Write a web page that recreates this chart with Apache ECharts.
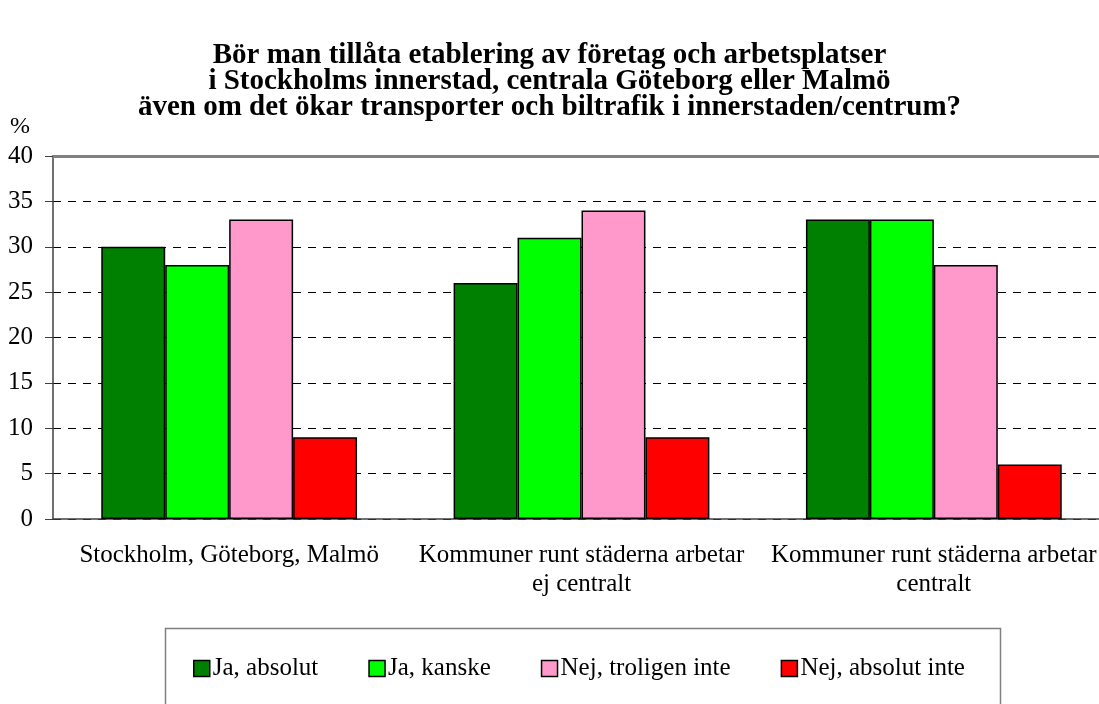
<!DOCTYPE html>
<html>
<head>
<meta charset="utf-8">
<script src="https://cdn.jsdelivr.net/npm/echarts@6/dist/echarts.min.js"></script>
<style>
  html, body { margin: 0; padding: 0; background: #fff; }
  #main { width: 1099px; height: 704px; }
</style>
</head>
<body>
<div id="main"></div>
<script>
// kategorier och svarsandelar (%)
var categories = ['Stockholm, Göteborg, Malmö', 'Kommuner runt städerna arbetar\nej centralt', 'Kommuner runt städerna arbetar\ncentralt'];
var jaAbsolut = [30, 26, 33];
var jaKanske = [28, 31, 33];
var nejTroligen = [33, 34, 28];
var nejAbsolut = [9, 9, 6];
var seriesNames = ['Ja, absolut', 'Ja, kanske', 'Nej, troligen inte', 'Nej, absolut inte'];
var colors = ['#008000', '#00ff00', '#ff99cc', '#ff0000'];

var font = '"Liberation Serif", "Times New Roman", serif';
var myChart = echarts.init(document.getElementById('main'));

function bar(i, data) {
    return {
        name: seriesNames[i],
        type: 'bar',
        data: data,
        barGap: '0%',
        barCategoryGap: '27.4%',
        itemStyle: { color: colors[i], borderColor: '#000', borderWidth: 1.5 }
    };
}

var option = {
    animation: false,
    backgroundColor: '#fff',
    title: {
        text: 'Bör man tillåta etablering av företag och arbetsplatser\ni Stockholms innerstad, centrala Göteborg eller Malmö\näven om det ökar transporter och biltrafik i innerstaden/centrum?',
        left: 'center',
        top: 38,
        textStyle: { fontFamily: font, fontSize: 29, fontWeight: 'bold', color: '#000', lineHeight: 26 }
    },
    grid: { left: 53, width: 1057, top: 156, bottom: 185, outerBoundsMode: 'none', containLabel: false },
    legend: {
        data: seriesNames,
        left: 188,
        top: 651,
        icon: 'rect',
        itemWidth: 16,
        itemHeight: 16,
        itemGap: 50,
        itemStyle: { borderColor: '#000', borderWidth: 1.5 },
        textStyle: { fontFamily: font, fontSize: 25, color: '#000', padding: [0, 0, 0, -2] }
    },
    graphic: [
        { type: 'text', left: 10, top: 115, style: { text: '%', font: '24px ' + font, fill: '#000' } },
        { type: 'rect', left: 163, top: 626, shape: { width: 835, height: 100 },
          style: { fill: 'none', stroke: '#808080', lineWidth: 1.5 } }
    ],
    xAxis: [{
        type: 'category',
        data: categories,
        axisLine: { lineStyle: { color: '#404040', width: 1.5 } },
        axisTick: { length: 8, lineStyle: { color: '#404040' } },
        axisLabel: { fontFamily: font, fontSize: 25, color: '#000', margin: 22, lineHeight: 29, interval: 0 }
    }, {
        type: 'category',
        data: categories,
        position: 'top',
        axisLine: { lineStyle: { color: '#808080', width: 3 } },
        axisTick: { show: false },
        axisLabel: { show: false }
    }],
    yAxis: {
        type: 'value',
        min: 0,
        max: 40,
        interval: 5,
        axisLine: { show: true, lineStyle: { color: '#404040', width: 1.5 } },
        axisTick: { show: true, length: 8, lineStyle: { color: '#404040' } },
        axisLabel: { fontFamily: font, fontSize: 25, color: '#000', margin: 20 },
        splitLine: { lineStyle: { color: '#000', type: [8, 7], width: 1 } }
    },
    series: [bar(0, jaAbsolut), bar(1, jaKanske), bar(2, nejTroligen), bar(3, nejAbsolut)]
};

myChart.setOption(option);
</script>
</body>
</html>
